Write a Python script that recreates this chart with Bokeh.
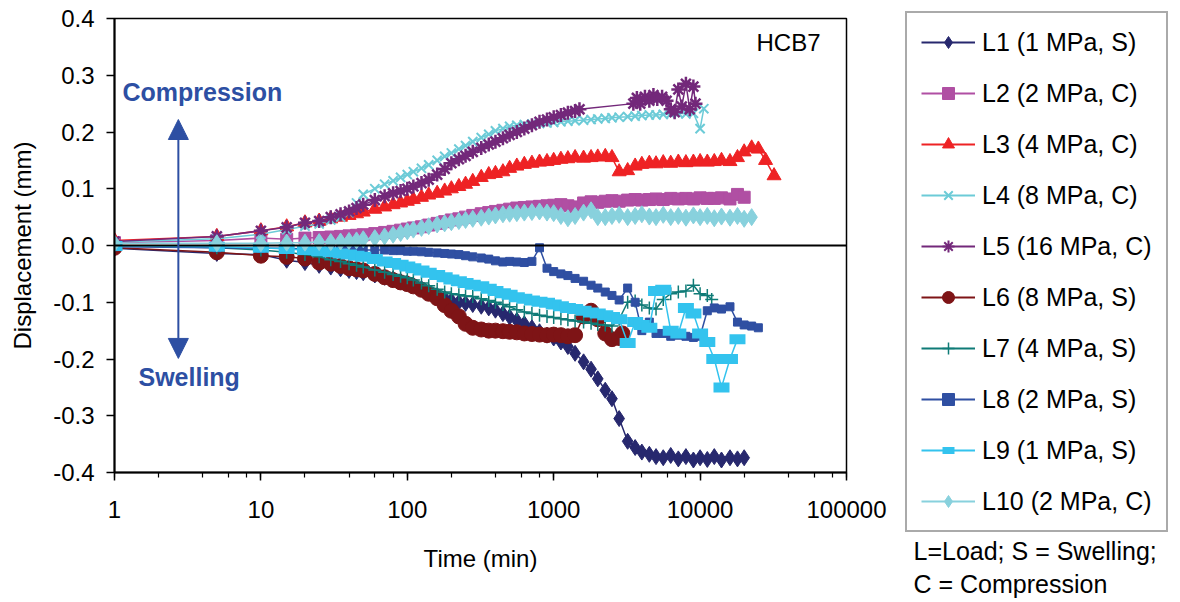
from bokeh.plotting import figure
from bokeh.layouts import row
from bokeh.models import (Span, Label, Arrow, NormalHead, Legend, LegendItem,
                          FixedTicker, PrintfTickFormatter, LogTicker, ColumnDataSource)
from bokeh.embed import file_html
from bokeh.resources import INLINE

# ---------------- data ----------------
T = [1, 5, 10, 15, 20, 25, 30, 35, 40, 45, 50, 60, 70, 80, 90, 100, 110, 125, 140, 160,
     180, 200, 225, 250, 280, 320, 360, 400, 450, 500, 560, 630, 710, 800, 900, 1000,
     1120, 1250, 1400, 1600, 1800, 2000, 2250, 2500, 2800, 3200, 3600, 4000, 4500, 5000,
     5600, 6300, 7100, 8000, 9000, 10000, 11200, 12500, 14000, 16000, 18000, 20000,
     22500, 25000, 28000, 32000]

y_ticks = [-0.4, -0.3, -0.2, -0.1, 0.0, 0.1, 0.2, 0.3, 0.4]

names = ["L1 (1 MPa, S)", "L2 (2 MPa, C)", "L3 (4 MPa, C)", "L4 (8 MPa, C)",
         "L5 (16 MPa, C)", "L6 (8 MPa, S)", "L7 (4 MPa, S)", "L8 (2 MPa, S)",
         "L9 (1 MPa, S)", "L10 (2 MPa, C)"]

t1 = T[:62]
v1 = [-0.005, -0.014, -0.016, -0.026, -0.030, -0.035, -0.038, -0.041, -0.044, -0.046,
      -0.048, -0.052, -0.056, -0.059, -0.063, -0.066, -0.070, -0.076, -0.082, -0.088,
      -0.093, -0.097, -0.100, -0.102, -0.104, -0.107, -0.110, -0.114, -0.120, -0.126,
      -0.132, -0.138, -0.145, -0.152, -0.158, -0.163, -0.170, -0.178, -0.190, -0.205,
      -0.218, -0.235, -0.255, -0.270, -0.305, -0.345, -0.356, -0.364, -0.368, -0.372,
      -0.374, -0.370, -0.376, -0.372, -0.378, -0.374, -0.377, -0.372, -0.378, -0.374,
      -0.376, -0.374]

t2 = T[:62]
v2 = [0.005, 0.009, 0.013, 0.011, 0.013, 0.014, 0.015, 0.016, 0.017, 0.018,
      0.019, 0.021, 0.023, 0.025, 0.027, 0.029, 0.031, 0.033, 0.036, 0.039,
      0.042, 0.045, 0.047, 0.050, 0.053, 0.056, 0.058, 0.060, 0.062, 0.064,
      0.066, 0.067, 0.068, 0.069, 0.070, 0.071, 0.072, 0.070, 0.068, 0.075,
      0.077, 0.076, 0.078, 0.079, 0.078, 0.080, 0.081, 0.080, 0.081, 0.082,
      0.081, 0.083, 0.082, 0.083, 0.082, 0.084, 0.083, 0.083, 0.084, 0.082,
      0.090, 0.085]

t3 = T[:66]
v3 = [0.009, 0.016, 0.026, 0.033, 0.040, 0.043, 0.047, 0.050, 0.053, 0.056,
      0.059, 0.064, 0.068, 0.072, 0.075, 0.078, 0.081, 0.085, 0.089, 0.092,
      0.096, 0.100, 0.104, 0.108, 0.113, 0.120, 0.125, 0.127, 0.130, 0.136,
      0.140, 0.143, 0.145, 0.147, 0.148, 0.150, 0.152, 0.153, 0.155, 0.154,
      0.155, 0.156, 0.157, 0.155, 0.130, 0.132, 0.140, 0.143, 0.145, 0.144,
      0.146, 0.145, 0.147, 0.146, 0.147, 0.148, 0.147, 0.148, 0.150, 0.148,
      0.155, 0.165, 0.172, 0.170, 0.150, 0.123]

t4 = T[:56] + [10600]
v4 = [0.006, 0.012, 0.020, 0.028, 0.034, 0.038, 0.045, 0.050, 0.058, 0.075,
      0.090, 0.100, 0.108, 0.114, 0.120, 0.125, 0.130, 0.136, 0.142, 0.150,
      0.157, 0.163, 0.170, 0.176, 0.183, 0.190, 0.196, 0.202, 0.206, 0.210,
      0.212, 0.213, 0.214, 0.215, 0.216, 0.217, 0.218, 0.219, 0.220, 0.221,
      0.222, 0.223, 0.224, 0.225, 0.226, 0.227, 0.228, 0.229, 0.230, 0.230,
      0.231, 0.232, 0.233, 0.232, 0.233, 0.206, 0.241]

t5 = T[:39] + [1500, 3500, 3700, 3900, 4200, 4500, 4800, 5100, 5500, 5900, 6300,
               6700, 7100, 7500, 8000, 8500, 9000, 9300]
v5 = [0.007, 0.016, 0.026, 0.032, 0.040, 0.043, 0.050, 0.055, 0.060, 0.066,
      0.072, 0.080, 0.087, 0.092, 0.096, 0.100, 0.104, 0.110, 0.116, 0.125,
      0.135, 0.145, 0.152, 0.158, 0.165, 0.172, 0.178, 0.183, 0.189, 0.195,
      0.200, 0.206, 0.212, 0.218, 0.222, 0.226, 0.230, 0.234, 0.237, 0.240,
      0.250, 0.260, 0.250, 0.262, 0.255, 0.265, 0.258, 0.262, 0.255, 0.240,
      0.235, 0.275, 0.245, 0.285, 0.240, 0.280, 0.250]

t6 = T[:45] + [2950]
v6 = [-0.004, -0.012, -0.018, -0.020, -0.023, -0.030, -0.032, -0.036, -0.040, -0.042,
      -0.044, -0.050, -0.056, -0.061, -0.065, -0.068, -0.072, -0.078, -0.085, -0.093,
      -0.105, -0.115, -0.125, -0.138, -0.145, -0.148, -0.150, -0.150, -0.151, -0.152,
      -0.153, -0.155, -0.156, -0.157, -0.158, -0.157, -0.158, -0.160, -0.158, -0.125,
      -0.115, -0.130, -0.155, -0.165, -0.163, -0.155]

t7 = T[:57] + [12000]
v7 = [0.000, -0.004, -0.008, -0.012, -0.016, -0.020, -0.025, -0.028, -0.032, -0.035,
      -0.038, -0.043, -0.047, -0.051, -0.054, -0.057, -0.061, -0.066, -0.071, -0.077,
      -0.082, -0.085, -0.087, -0.089, -0.090, -0.094, -0.097, -0.100, -0.104, -0.108,
      -0.113, -0.117, -0.120, -0.123, -0.125, -0.127, -0.129, -0.131, -0.133, -0.135,
      -0.137, -0.139, -0.140, -0.142, -0.130, -0.100, -0.098, -0.105, -0.110, -0.112,
      -0.095, -0.085, -0.082, -0.080, -0.070, -0.085, -0.088, -0.095]

t8 = T[:64]
v8 = [-0.002, -0.004, -0.005, -0.005, -0.006, -0.006, -0.006, -0.007, -0.007, -0.007,
      -0.008, -0.008, -0.008, -0.009, -0.009, -0.010, -0.010, -0.011, -0.012, -0.013,
      -0.014, -0.015, -0.016, -0.018, -0.020, -0.022, -0.024, -0.027, -0.029, -0.028,
      -0.029, -0.030, -0.028, -0.004, -0.040, -0.046, -0.050, -0.053, -0.058, -0.063,
      -0.070, -0.075, -0.082, -0.088, -0.096, -0.075, -0.100, -0.150, -0.135, -0.155,
      -0.155, -0.160, -0.158, -0.160, -0.162, -0.160, -0.115, -0.110, -0.112, -0.108,
      -0.135, -0.140, -0.142, -0.145]

t9 = T[:61]
v9 = [-0.001, -0.002, -0.004, -0.006, -0.008, -0.010, -0.012, -0.014, -0.016, -0.018,
      -0.020, -0.024, -0.028, -0.031, -0.034, -0.037, -0.040, -0.044, -0.048, -0.052,
      -0.056, -0.060, -0.063, -0.066, -0.069, -0.072, -0.076, -0.080, -0.084, -0.087,
      -0.091, -0.094, -0.097, -0.099, -0.101, -0.104, -0.107, -0.110, -0.112, -0.115,
      -0.118, -0.120, -0.123, -0.126, -0.130, -0.172, -0.135, -0.140, -0.145, -0.080,
      -0.078, -0.150, -0.155, -0.110, -0.120, -0.155, -0.170, -0.200, -0.250, -0.200,
      -0.165]

t10 = T[:63]
v10 = [0.004, 0.004, 0.004, 0.005, 0.005, 0.006, 0.006, 0.007, 0.008, 0.009,
       0.011, 0.013, 0.016, 0.019, 0.022, 0.025, 0.028, 0.031, 0.034, 0.037,
       0.039, 0.041, 0.043, 0.045, 0.047, 0.049, 0.051, 0.053, 0.055, 0.056,
       0.057, 0.058, 0.059, 0.060, 0.058, 0.057, 0.052, 0.048, 0.052, 0.058,
       0.062, 0.050, 0.050, 0.052, 0.054, 0.050, 0.052, 0.055, 0.051, 0.050,
       0.054, 0.050, 0.052, 0.049, 0.053, 0.050, 0.052, 0.048, 0.051, 0.049,
       0.052, 0.047, 0.050]

times = [t1, t2, t3, t4, t5, t6, t7, t8, t9, t10]
values = [v1, v2, v3, v4, v5, v6, v7, v8, v9, v10]

# ---------------- styles ----------------
colors = ["#27286E", "#B04FA3", "#EE2224", "#6CCBD7", "#73287A",
          "#7E1416", "#0F7B77", "#2F4FA2", "#33C3EE", "#88D1DD"]
markers = ["diamond", "square", "triangle", "x", "asterisk",
           "circle", "cross", "square", "dash", "diamond"]
msizes = [16, 12, 14, 13, 14, 15, 13, 8, 16, 17]
mlw = [1, 1, 1, 2, 2.5, 1, 1.5, 1, 10, 1]
leg_sizes = [13, 12, 13, 13, 13, 13, 13, 8, 16, 15]
leg_lw = [1, 1, 1, 2, 2, 1, 1.5, 1, 7, 1]

FONT = "Liberation Sans"
BLUE = "#2D4FA3"

p = figure(width=890, height=602, x_axis_type="log",
           x_range=(1, 100000), y_range=(-0.4, 0.4),
           output_backend="svg", toolbar_location=None,
           min_border_left=114, min_border_right=44,
           min_border_top=18, min_border_bottom=130)
p.background_fill_color = "white"
p.border_fill_color = "white"
p.outline_line_color = "black"
p.outline_line_width = 1.5
p.xgrid.visible = False
p.ygrid.visible = False

# axes
p.xaxis.ticker = LogTicker(desired_num_ticks=6)
p.xaxis.formatter = PrintfTickFormatter(format="%d")
p.yaxis.ticker = FixedTicker(ticks=y_ticks)
p.yaxis.formatter = PrintfTickFormatter(format="%.1f")
for ax in (p.xaxis[0], p.yaxis[0]):
    ax.axis_line_color = "black"
    ax.axis_line_width = 2
    ax.major_tick_line_color = "black"
    ax.major_tick_line_width = 1.5
    ax.major_tick_in = 0
    ax.major_tick_out = 8
    ax.minor_tick_line_color = "black"
    ax.minor_tick_line_width = 1.2
    ax.minor_tick_in = 0
    ax.minor_tick_out = 5
    ax.major_label_text_font = FONT
    ax.major_label_text_font_size = "24px"
    ax.major_label_text_color = "black"
    ax.axis_label_text_font = FONT
    ax.axis_label_text_font_size = "24px"
    ax.axis_label_text_font_style = "normal"
    ax.axis_label_text_color = "black"
p.yaxis.minor_tick_line_color = None
p.xaxis.major_label_standoff = 20
p.yaxis.major_label_standoff = 12
p.xaxis.axis_label = "Time (min)"
p.yaxis.axis_label = "Displacement (mm)"
p.xaxis.axis_label_standoff = 24
p.yaxis.axis_label_standoff = 14

p.add_layout(Span(location=0, dimension="width", line_color="black", line_width=2))

for t, v, c, m, s, lw in zip(times, values, colors, markers, msizes, mlw):
    src = ColumnDataSource(dict(t=t, v=v))
    p.line("t", "v", source=src, line_color=c, line_width=1.5)
    p.scatter("t", "v", source=src, marker=m, size=s,
              fill_color=c, line_color=c, line_width=lw)

# arrow and annotations
arrow = Arrow(start=NormalHead(size=20, fill_color=BLUE, line_color=BLUE),
              end=NormalHead(size=20, fill_color=BLUE, line_color=BLUE),
              x_start=2.73, y_start=-0.199, x_end=2.73, y_end=0.222,
              line_color=BLUE, line_width=2)
p.add_layout(arrow)

p.add_layout(Label(x=1.134, y=0.27, text="Compression", text_font=FONT,
                   text_font_size="25px", text_font_style="bold", text_color=BLUE,
                   text_align="left", text_baseline="middle"))
p.add_layout(Label(x=1.458, y=-0.231, text="Swelling", text_font=FONT,
                   text_font_size="25px", text_font_style="bold", text_color=BLUE,
                   text_align="left", text_baseline="middle"))
p.add_layout(Label(x=66500, y=0.357, text="HCB7", text_font=FONT,
                   text_font_size="24px", text_color="black",
                   text_align="right", text_baseline="middle"))

# ---------------- legend panel ----------------
q = figure(width=290, height=602, x_range=(0, 290), y_range=(0, 602),
           output_backend="svg", toolbar_location=None,
           x_axis_location=None, y_axis_location=None,
           min_border=0, min_border_left=0, min_border_right=0,
           min_border_top=0, min_border_bottom=0)
q.outline_line_color = None
q.xgrid.visible = False
q.ygrid.visible = False
q.background_fill_color = "white"
q.border_fill_color = "white"
for fig in (p, q):
    try:
        fig.frame_align = False
    except Exception:
        pass

items = []
for name, c, m, s, lw in zip(names, colors, markers, leg_sizes, leg_lw):
    # legend proxies: one point placed outside the visible range
    rl = q.line(x=[-500, -400], y=[-500, -500], line_color=c, line_width=2)
    rm = q.scatter(x=[-500], y=[-500], marker=m, size=s, fill_color=c,
                   line_color=c, line_width=lw)
    items.append(LegendItem(label=name, renderers=[rl, rm]))

legend = Legend(items=items, location=(15, 70), orientation="vertical",
                label_text_font=FONT, label_text_font_size="25px",
                label_text_color="black", glyph_width=54, glyph_height=30,
                label_height=30, label_standoff=7, spacing=21, padding=14,
                border_line_color="#555555", border_line_width=2,
                background_fill_color="white", background_fill_alpha=1.0)
q.add_layout(legend)

q.add_layout(Label(x=23, y=52, text="L=Load; S = Swelling;", text_font=FONT,
                   text_font_size="25px", text_color="black",
                   text_align="left", text_baseline="middle"))
q.add_layout(Label(x=23, y=19, text="C = Compression", text_font=FONT,
                   text_font_size="25px", text_color="black",
                   text_align="left", text_baseline="middle"))

layout = row(p, q, spacing=0)
open("out.html", "w").write(file_html(layout, INLINE))
